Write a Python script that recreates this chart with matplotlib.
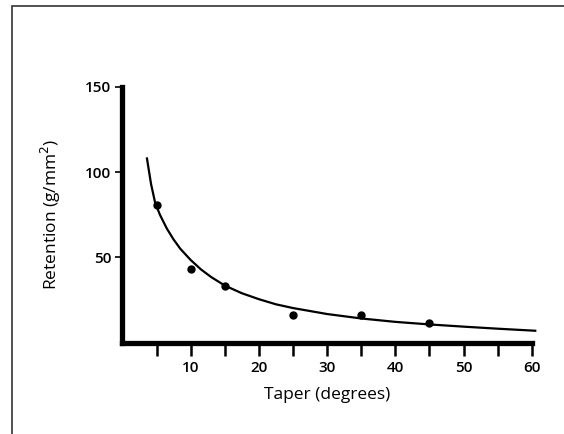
import matplotlib.pyplot as plt
from matplotlib.patches import Rectangle

# measured points
taper = [5, 10, 15, 25, 35, 45]
retention = [81, 43, 33, 16, 16, 11.5]

# fitted curve
curve_x = [3.6, 4.2, 4.8, 5.5, 6.5, 7.5, 8.5, 10, 11.5, 13, 15, 17.5, 20, 22.5,
           25, 30, 35, 40, 45, 50, 55, 60.5]
curve_y = [108, 93, 82, 75, 67, 60.5, 55, 48.5, 43, 38.5, 33.5, 29, 25.5, 22.5,
           20.3, 16.8, 14.2, 12.2, 10.7, 9.4, 8.2, 7.0]

x_ticks = [5, 10, 15, 20, 25, 30, 35, 40, 45, 50, 55, 60]
x_labels = ['', '10', '', '20', '', '30', '', '40', '', '50', '', '60']
y_ticks = [50, 100, 150]

plt.rcParams['font.family'] = ['Open Sans', 'DejaVu Sans']

fig = plt.figure(figsize=(5.64, 4.34), dpi=100)
fig.patches.append(Rectangle((12 / 564, -0.05), 1.1, 1.037,
                             transform=fig.transFigure, fill=False,
                             edgecolor='#333333', linewidth=1.2))
ax = fig.add_axes([0.217, 0.2104, 0.943 - 0.217, 0.800 - 0.2104])

ax.plot(curve_x, curve_y, color='black', linewidth=1.6, clip_on=False)
ax.plot(taper, retention, 'o', color='black', markersize=5, clip_on=False)

ax.set_xlim(0, 60)
ax.set_ylim(0, 150)
ax.set_xticks(x_ticks)
ax.set_xticklabels(x_labels)
ax.set_yticks(y_ticks)
for lab in ax.get_xticklabels() + ax.get_yticklabels():
    lab.set_fontweight('semibold')

for s in ['top', 'right']:
    ax.spines[s].set_visible(False)
for s in ['left', 'bottom']:
    ax.spines[s].set_linewidth(3.8)

ax.tick_params(axis='x', length=9, width=1.8, pad=4, labelsize=11)
ax.tick_params(axis='y', length=5, width=1.2, pad=3, labelsize=11)

ax.set_xlabel('Taper (degrees)', fontsize=12.5, labelpad=9)
ax.set_ylabel('Retention (g/mm$^2$)', fontsize=12.5, labelpad=16)

fig.savefig('out.png', dpi=100)
